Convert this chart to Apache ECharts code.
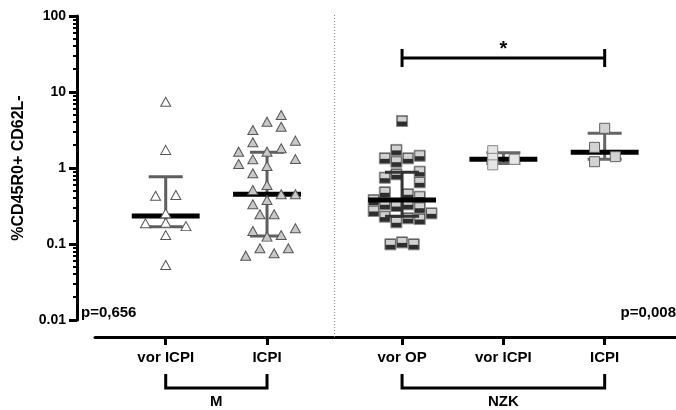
<!DOCTYPE html>
<html><head><meta charset="utf-8">
<script src="https://cdn.jsdelivr.net/npm/echarts@6/dist/echarts.min.js"></script>
<style>html,body{margin:0;padding:0;background:#fff}#c{width:676px;height:410px}</style>
</head><body><div id="c"></div>
<script>
// ===== DATA =====
const categories = ['vor ICPI', 'ICPI', 'vor OP', 'vor ICPI', 'ICPI'];
const groupNames = ['M', 'NZK'];
const groupSpans = [[0, 1], [2, 4]];            // first / last category index of each group
const yTickValues = [0.01, 0.1, 1, 10, 100];
const yTitle = '%CD45R0+ CD62L-';

const mVorIcpi   = [7.45, 1.73, 0.432, 0.441, 0.253, 0.187, 0.191, 0.172, 0.131, 0.053];
const mIcpi      = [4.98, 4.07, 3.49, 3.16, 2.18, 2.29, 1.64, 1.64, 1.82, 1.30, 1.13, 1.31, 1.06, 0.851, 0.598,
                    0.514, 0.451, 0.451, 0.379, 0.333, 0.246, 0.246, 0.148, 0.161, 0.125, 0.131, 0.0878, 0.0878, 0.0755, 0.0702];
const nzkVorOp   = [4.15, 1.73, 1.34, 1.34, 1.21, 1.45, 0.745, 0.826, 0.894, 0.648, 0.479, 0.451, 0.419, 0.379,
                    0.333, 0.316, 0.333, 0.272, 0.300, 0.253, 0.229, 0.193, 0.218, 0.213, 0.099, 0.105, 0.099];
const nzkVorIcpi = [1.69, 1.34, 1.10, 1.30];
const nzkIcpi    = [3.33, 1.87, 1.21, 1.41];

const medians = [0.233, 0.45, 0.379, 1.30, 1.61];
const errLow  = [0.169, 0.127, 0.232, 1.15, 1.30];
const errHigh = [0.768, 1.61, 0.878, 1.59, 2.86];

const pValues = ['p=0,656', 'p=0,008'];
const sigPair = [2, 4];
const sigLabel = '*';
const sigLevel = 28;

// ===== LAYOUT (positions / styles) =====
const catPos = [0, 1, 2.333, 3.333, 4.333];
const separatorPos = 1.666;
const spreadMVorIcpi = [0, 0, -0.1, 0.1, 0, -0.2, 0, 0.2, 0, 0];
const spreadMIcpi = [0.14, 0, 0.14, -0.14, -0.14, 0.28, -0.28, 0, 0.14, -0.14, -0.28, 0.28, 0, -0.14, 0,
                     -0.14, 0.14, 0.28, 0, -0.14, -0.07, 0.07, -0.14, 0.28, 0, 0.14, -0.07, 0.21, 0.07, -0.21];
const spreadNzkVorOp = [0, -0.056, -0.17, 0.059, -0.056, 0.174, -0.17, -0.056, 0.174, 0.174, -0.17, 0.059, 0.174, -0.28,
                        -0.17, -0.056, 0.059, -0.28, 0.174, 0.29, -0.17, -0.056, 0.059, 0.174, -0.115, 0, 0.115];
const spreadNzkVorIcpi = [-0.105, -0.105, -0.105, 0.108];
const spreadNzkIcpi = [0, -0.1, -0.1, 0.105];
const errColors = ['#5e5e5e', '#5e5e5e', '#333333', '#666666', '#666666'];
const FONT = '"Liberation Sans", Arial, sans-serif';
const X_MIN = -0.698, X_MAX = 5.037;

const pts = (k, vals, spread) => vals.map((v, i) => [catPos[k] + spread[i], v]);

const minorTicks = [];
for (let d = 0; d < yTickValues.length - 1; d++) {
  for (let m = 2; m <= 9; m++) minorTicks.push(+(yTickValues[d] * m).toPrecision(6));
}

const chart = echarts.init(document.getElementById('c'), null, { renderer: 'canvas' });

const fmtY = v => String(+(+v).toPrecision(6));

const option = {
  animation: false,
  backgroundColor: '#fff',
  grid: { left: 95, right: 0, top: 16, bottom: 90, containLabel: false },
  xAxis: {
    type: 'value', min: X_MIN, max: X_MAX, offset: 17,
    splitLine: { show: false },
    axisLine: { show: true, onZero: false, lineStyle: { color: '#000', width: 3 } },
    axisTick: { show: true, length: 8, lineStyle: { color: '#000', width: 3 }, customValues: catPos },
    axisLabel: {
      show: true, customValues: catPos, margin: 13,
      color: '#000', fontFamily: FONT, fontWeight: 'bold', fontSize: 15,
      formatter: v => { const i = catPos.findIndex(p => Math.abs(p - v) < 1e-6); return i >= 0 ? categories[i] : ''; }
    }
  },
  yAxis: [{
    type: 'log', logBase: 10, min: 0.01, max: 100, offset: 18, position: 'left',
    name: yTitle, nameLocation: 'middle', nameGap: 50, nameRotate: 90,
    nameTextStyle: { color: '#000', fontFamily: FONT, fontWeight: 'bold', fontSize: 16 },
    splitLine: { show: false },
    axisLine: { show: true, onZero: false, lineStyle: { color: '#000', width: 3 } },
    axisTick: { show: true, length: 8, lineStyle: { color: '#000', width: 3 }, customValues: yTickValues },
    axisLabel: { customValues: yTickValues, margin: 11, color: '#000', fontFamily: FONT, fontWeight: 'bold', fontSize: 14, formatter: fmtY }
  }, {
    type: 'log', logBase: 10, min: 0.01, max: 100, offset: 18, position: 'left',
    splitLine: { show: false },
    axisLine: { show: false, onZero: false },
    axisTick: { show: true, length: 4, lineStyle: { color: '#000', width: 2 }, customValues: minorTicks },
    axisLabel: { show: false }
  }],
  series: [
    {
      type: 'scatter', silent: true, symbol: 'triangle', symbolSize: [10, 9],
      itemStyle: { color: '#ffffff', borderColor: '#555', borderWidth: 1, opacity: 1 },
      data: pts(0, mVorIcpi, spreadMVorIcpi)
    },
    {
      type: 'scatter', silent: true, symbol: 'triangle', symbolSize: [10, 9],
      itemStyle: { color: '#c8c8c8', borderColor: '#555', borderWidth: 1, opacity: 1 },
      data: pts(1, mIcpi, spreadMIcpi)
    },
    {
      type: 'custom', silent: true,
      data: pts(2, nzkVorOp, spreadNzkVorOp),
      renderItem: (params, api) => {
        const p = api.coord([api.value(0), api.value(1)]);
        return { type: 'group', children: [
          { type: 'rect', shape: { x: p[0] - 5.5, y: p[1] - 5.5, width: 11, height: 11 }, style: { fill: '#2e2e2e', stroke: '#8a8a8a', lineWidth: 1 } },
          { type: 'rect', shape: { x: p[0] - 4.5, y: p[1] - 4.5, width: 9, height: 5 }, style: { fill: '#d2d2d2' } }
        ] };
      }
    },
    {
      type: 'scatter', silent: true, symbol: 'rect', symbolSize: 10,
      itemStyle: { color: '#e6e6e6', borderColor: '#888', borderWidth: 1, opacity: 1 },
      data: pts(3, nzkVorIcpi, spreadNzkVorIcpi)
    },
    {
      type: 'scatter', silent: true, symbol: 'rect', symbolSize: 10,
      itemStyle: { color: '#d2d2d2', borderColor: '#606060', borderWidth: 1, opacity: 1 },
      data: pts(4, nzkIcpi, spreadNzkIcpi)
    },
    {
      type: 'custom', silent: true,
      data: catPos.map((x, i) => [x, medians[i], errLow[i], errHigh[i]]),
      renderItem: (params, api) => {
        const i = params.dataIndex;
        const x = api.value(0);
        const pm = api.coord([x, api.value(1)]);
        const pl = api.coord([x, api.value(2)]);
        const ph = api.coord([x, api.value(3)]);
        const halfMed = api.coord([x + 0.335, api.value(1)])[0] - pm[0];
        const halfCap = api.coord([x + 0.168, api.value(1)])[0] - pm[0];
        const col = errColors[i];
        const st = { stroke: col, lineWidth: 3 };
        return { type: 'group', children: [
          { type: 'line', shape: { x1: pm[0], y1: pl[1], x2: pm[0], y2: ph[1] }, style: st },
          { type: 'line', shape: { x1: pm[0] - halfCap, y1: ph[1], x2: pm[0] + halfCap, y2: ph[1] }, style: st },
          { type: 'line', shape: { x1: pm[0] - halfCap, y1: pl[1], x2: pm[0] + halfCap, y2: pl[1] }, style: st },
          { type: 'line', shape: { x1: pm[0] - halfMed, y1: pm[1], x2: pm[0] + halfMed, y2: pm[1] }, style: { stroke: '#000', lineWidth: 5 } }
        ] };
      }
    },
    {
      type: 'custom', silent: true,
      data: [[0, 1]],
      renderItem: (params, api) => {
        const children = [];
        const bottom = api.coord([separatorPos, 0.01]);
        const top = api.coord([separatorPos, 100]);
        children.push({ type: 'line', shape: { x1: bottom[0], y1: top[1] - 1, x2: bottom[0], y2: bottom[1] + 17 },
          style: { stroke: '#888', lineWidth: 1, lineDash: [1, 2] } });
        // significance bar
        const s1 = api.coord([catPos[sigPair[0]], sigLevel]);
        const s2 = api.coord([catPos[sigPair[1]], sigLevel]);
        const bl = { stroke: '#000', lineWidth: 3 };
        children.push({ type: 'line', shape: { x1: s1[0], y1: s1[1], x2: s2[0], y2: s2[1] }, style: bl });
        children.push({ type: 'line', shape: { x1: s1[0], y1: s1[1] - 9, x2: s1[0], y2: s1[1] + 9 }, style: bl });
        children.push({ type: 'line', shape: { x1: s2[0], y1: s2[1] - 9, x2: s2[0], y2: s2[1] + 9 }, style: bl });
        children.push({ type: 'text', x: (s1[0] + s2[0]) / 2, y: s1[1] - 9, style: { text: sigLabel, fill: '#000',
          fontFamily: FONT, fontWeight: 'bold', fontSize: 20, align: 'center', verticalAlign: 'middle' } });
        // group brackets
        const yBase = api.coord([0, 0.01])[1];
        groupSpans.forEach((sp, g) => {
          const a = api.coord([catPos[sp[0]], 0.01])[0];
          const b = api.coord([catPos[sp[1]], 0.01])[0];
          children.push({ type: 'polyline', shape: { points: [[a, yBase + 54], [a, yBase + 68], [b, yBase + 68], [b, yBase + 54]] },
            style: { stroke: '#000', lineWidth: 3, fill: null } });
          children.push({ type: 'text', x: (a + b) / 2, y: yBase + 82, style: { text: groupNames[g], fill: '#000',
            fontFamily: FONT, fontWeight: 'bold', fontSize: 15, align: 'center', verticalAlign: 'middle' } });
        });
        // p values
        const left = api.coord([X_MIN, 0.01]);
        const right = api.coord([X_MAX, 0.01]);
        children.push({ type: 'text', x: left[0] - 14, y: left[1] - 7, style: { text: pValues[0], fill: '#000',
          fontFamily: FONT, fontWeight: 'bold', fontSize: 15, align: 'left', verticalAlign: 'middle' } });
        children.push({ type: 'text', x: right[0], y: right[1] - 7, style: { text: pValues[1], fill: '#000',
          fontFamily: FONT, fontWeight: 'bold', fontSize: 15, align: 'right', verticalAlign: 'middle' } });
        return { type: 'group', children };
      }
    }
  ]
};
chart.setOption(option);
</script>
</body></html>
